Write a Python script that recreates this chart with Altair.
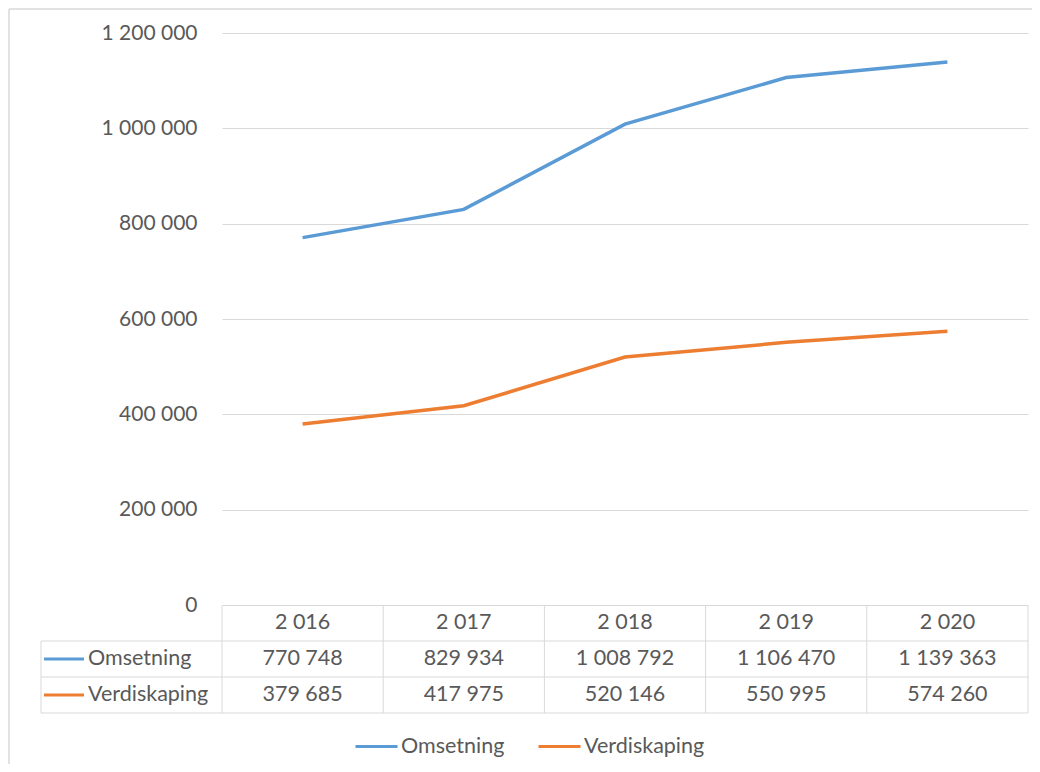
import altair as alt
import pandas as pd

years = [2016, 2017, 2018, 2019, 2020]
year_labels = ["2 016", "2 017", "2 018", "2 019", "2 020"]
series_names = ["Omsetning", "Verdiskaping"]
omsetning = [770748, 829934, 1008792, 1106470, 1139363]
verdiskaping = [379685, 417975, 520146, 550995, 574260]
series_colors = ["#5B9BD5", "#ED7D31"]
y_ticks = [0, 200000, 400000, 600000, 800000, 1000000, 1200000]

FONT = "Lato"
FS = 21.5
TXT = "#595959"
GRID = "#d9d9d9"

W, H = 806, 572


def fmt(v):
    return f"{v:,}".replace(",", " ")


rows = []
for name, vals in zip(series_names, [omsetning, verdiskaping]):
    for y, v in zip(years, vals):
        rows.append({"year": y, "series": name, "value": v, "label": fmt(v)})
df = pd.DataFrame(rows)

df_years = pd.DataFrame({"year": years, "ylab": year_labels})
bounds = [years[0] - 0.5] + [y + 0.5 for y in years]
df_bounds = pd.DataFrame({"b": bounds})
df_names = pd.DataFrame({"series": series_names, "color": series_colors})

xscale = alt.Scale(domain=[years[0] - 0.5, years[-1] + 0.5], nice=False, zero=False)
yscale = alt.Scale(domain=[0, 1200000], nice=False)

color_scale = alt.Scale(domain=series_names, range=series_colors)

lines = alt.Chart(df).mark_line(strokeWidth=3.5).encode(
    x=alt.X("year:Q", scale=xscale, axis=None),
    y=alt.Y(
        "value:Q",
        scale=yscale,
        axis=alt.Axis(
            values=y_ticks,
            title=None,
            domain=False,
            ticks=False,
            grid=True,
            gridColor=GRID,
            gridWidth=1,
            labelFont=FONT,
            labelFontSize=21,
            labelColor=TXT,
            labelPadding=25,
            labelExpr="replace(replace(format(datum.value, ','), ',', ' '), ',', ' ')",
        ),
    ),
    color=alt.Color(
        "series:N",
        scale=color_scale,
        legend=alt.Legend(
            orient="none",
            legendX=132,
            legendY=691,
            direction="horizontal",
            title=None,
            symbolType="stroke",
            symbolSize=1764,
            symbolStrokeWidth=3,
            labelFont=FONT,
            labelFontSize=FS,
            labelColor=TXT,
            labelOffset=2,
            columnPadding=27,
            padding=0,
        ),
    ),
)

# table vertical lines
vlines = alt.Chart(df_bounds).mark_rule(color=GRID, strokeWidth=1).encode(
    x=alt.X("b:Q", scale=xscale, axis=None),
    y=alt.value(H),
    y2=alt.value(H + 108),
)
left_vline = alt.Chart(df_bounds.head(1)).mark_rule(color=GRID, strokeWidth=1).encode(
    x=alt.value(-181), y=alt.value(H + 36), y2=alt.value(H + 108)
)
hline1 = alt.Chart(df_bounds.head(1)).mark_rule(color=GRID, strokeWidth=1).encode(
    x=alt.value(-181), x2=alt.value(W), y=alt.value(H + 36)
)
hline2 = alt.Chart(df_bounds.head(1)).mark_rule(color=GRID, strokeWidth=1).encode(
    x=alt.value(-181), x2=alt.value(W), y=alt.value(H + 72)
)
hline3 = alt.Chart(df_bounds.head(1)).mark_rule(color=GRID, strokeWidth=1).encode(
    x=alt.value(-181), x2=alt.value(W), y=alt.value(H + 108)
)

header = alt.Chart(df_years).mark_text(font=FONT, fontSize=FS, color=TXT).encode(
    x=alt.X("year:Q", scale=xscale, axis=None),
    y=alt.value(H + 18),
    text="ylab:N",
)

cells_o = alt.Chart(df).transform_filter(alt.datum.series == series_names[0]).mark_text(
    font=FONT, fontSize=FS, color=TXT
).encode(
    x=alt.X("year:Q", scale=xscale, axis=None),
    y=alt.value(H + 54),
    text="label:N",
)
cells_v = alt.Chart(df).transform_filter(alt.datum.series == series_names[1]).mark_text(
    font=FONT, fontSize=FS, color=TXT
).encode(
    x=alt.X("year:Q", scale=xscale, axis=None),
    y=alt.value(H + 90),
    text="label:N",
)

name_o = alt.Chart(df_names.head(1)).mark_text(
    font=FONT, fontSize=FS, color=TXT, align="left"
).encode(x=alt.value(-134), y=alt.value(H + 54), text="series:N")
name_v = alt.Chart(df_names.tail(1)).mark_text(
    font=FONT, fontSize=FS, color=TXT, align="left"
).encode(x=alt.value(-134), y=alt.value(H + 90), text="series:N")

sym_o = alt.Chart(df_names.head(1)).mark_rule(strokeWidth=3).encode(
    x=alt.value(-178), x2=alt.value(-138), y=alt.value(H + 54),
    stroke=alt.Stroke("color:N", scale=None),
)
sym_v = alt.Chart(df_names.tail(1)).mark_rule(strokeWidth=3).encode(
    x=alt.value(-178), x2=alt.value(-138), y=alt.value(H + 90),
    stroke=alt.Stroke("color:N", scale=None),
)

# outer chart border (left and top)
border_left = alt.Chart(df_names.head(1)).mark_rule(color=GRID, strokeWidth=1.5).encode(
    x=alt.value(-213), y=alt.value(-24), y2=alt.value(H + 160)
)
border_top = alt.Chart(df_names.head(1)).mark_rule(color=GRID, strokeWidth=1.5).encode(
    x=alt.value(-213), x2=alt.value(W + 10), y=alt.value(-24)
)

chart = alt.layer(
    border_left, border_top,
    vlines, left_vline, hline1, hline2, hline3,
    header, cells_o, cells_v, name_o, name_v, sym_o, sym_v,
    lines,
).properties(
    width=W,
    height=H,
    padding={"left": 214, "top": 25, "right": 4, "bottom": 159},
    autosize=alt.AutoSizeParams(type="none"),
).configure_view(stroke=None)

chart.save("out.html", embed_options={"renderer": "svg", "actions": False})
